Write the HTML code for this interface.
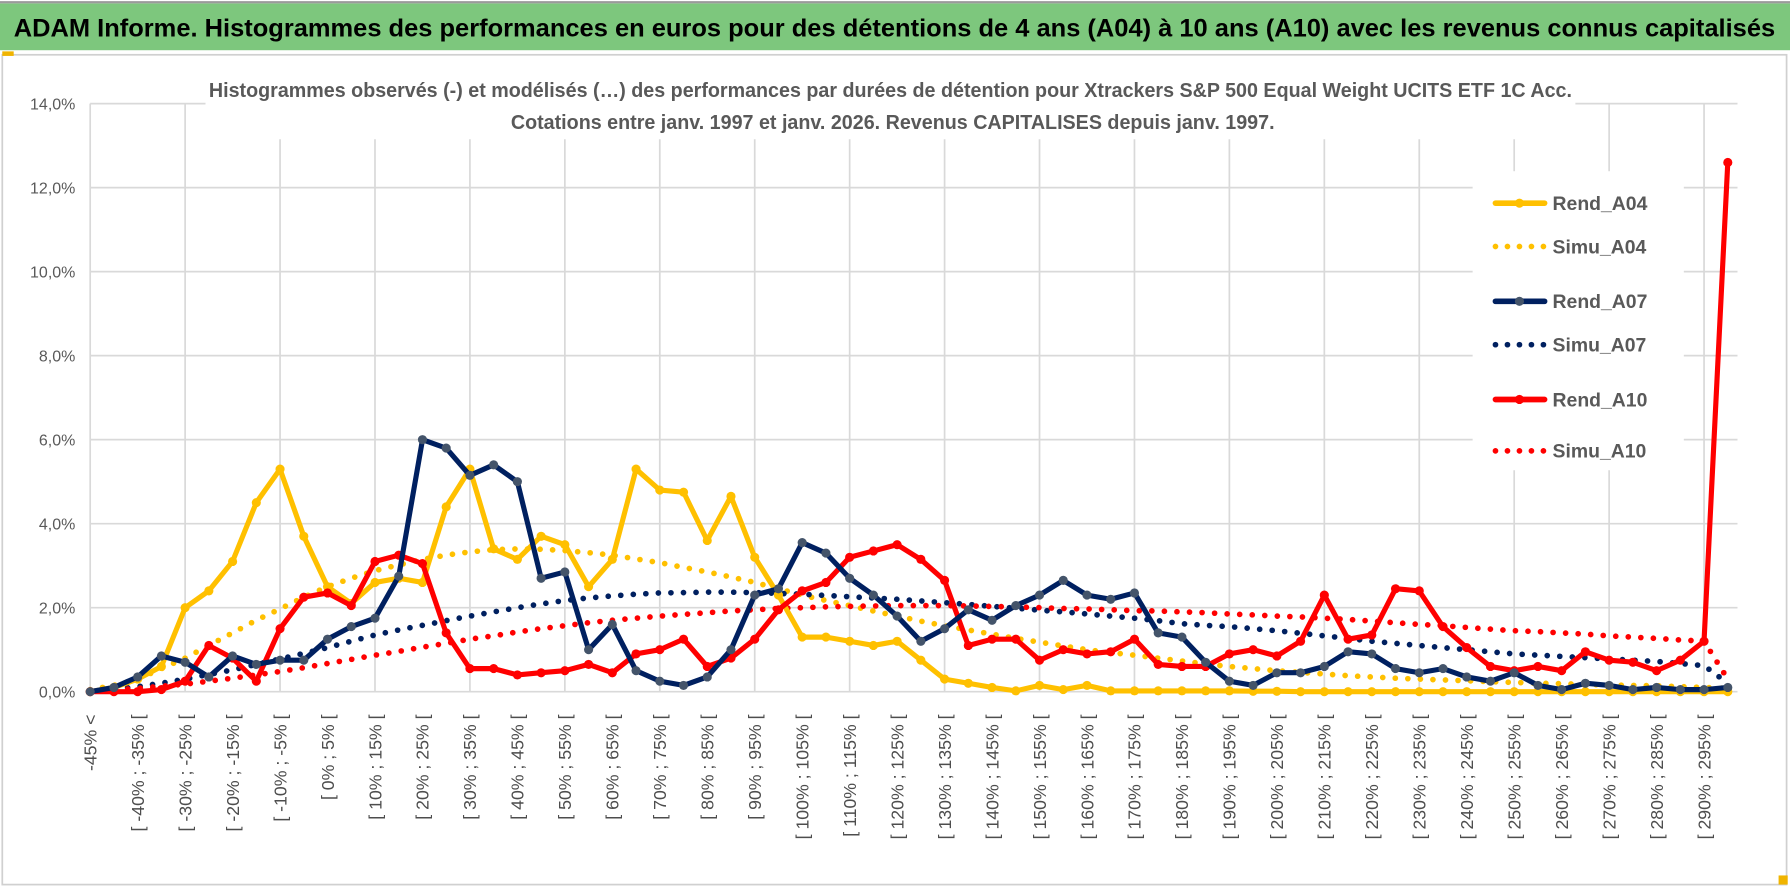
<!DOCTYPE html>
<html><head><meta charset="utf-8"><style>
html,body{margin:0;padding:0;background:#fff;}
svg{display:block;}
text{font-family:"Liberation Sans",sans-serif;}
</style></head><body>
<svg id="chart" xmlns="http://www.w3.org/2000/svg" width="1790" height="888" viewBox="0 0 1568 778" preserveAspectRatio="none">
<rect x="0" y="0" width="1568" height="778" fill="#fff"/>
<rect x="0" y="3" width="1568" height="41" fill="#7dc77d"/>
<line x1="0" y1="2" x2="1568" y2="2" stroke="#9a9a9a" stroke-width="2"/>
<text x="12" y="32" font-size="22" font-weight="bold" textLength="1543" lengthAdjust="spacingAndGlyphs" fill="#000">ADAM Informe. Histogrammes des performances en euros pour des détentions de 4 ans (A04) à 10 ans (A10) avec les revenus connus capitalisés</text>
<rect x="2" y="48" width="1563" height="727" fill="none" stroke="#d0d0d0" stroke-width="1.5"/>
<rect x="2" y="45" width="10" height="4" fill="#f0b400"/>
<rect x="1558" y="767" width="8" height="8" fill="#f0b400"/>
<g id="grid"></g>
<g id="plot"></g>
<rect x="180" y="62" width="1200" height="60" fill="#fff"/>
<text x="780" y="85" font-size="17.5" font-weight="bold" fill="#595959" text-anchor="middle" textLength="1194" lengthAdjust="spacingAndGlyphs">Histogrammes observés (-) et modélisés (…) des performances par durées de détention pour Xtrackers S&amp;P 500 Equal Weight UCITS ETF 1C Acc.</text>
<text x="782" y="113" font-size="17.5" font-weight="bold" fill="#595959" text-anchor="middle" textLength="669" lengthAdjust="spacingAndGlyphs">Cotations entre janv. 1997 et janv. 2026. Revenus CAPITALISES depuis janv. 1997.</text>
<g id="legend"></g>
</svg>
<script>
var categories=["-45% <"];
for(var k=1;k<70;k++){var a=-45+5*(k-1);categories.push("[ "+a+"% ; "+(a+5)+"% [");}
var yTicks=[0,2,4,6,8,10,12,14];
var yTickLabels=["0,0%","2,0%","4,0%","6,0%","8,0%","10,0%","12,0%","14,0%"];
var rendA04=[0,0.1,0.3,0.6,2.0,2.4,3.1,4.5,5.3,3.7,2.5,2.1,2.6,2.7,2.6,4.4,5.3,3.4,3.15,3.7,3.5,2.5,3.15,5.3,4.8,4.75,3.6,4.65,3.2,2.3,1.3,1.3,1.2,1.1,1.2,0.75,0.3,0.2,0.1,0.02,0.15,0.05,0.15,0.02,0.02,0.02,0.02,0.02,0.02,0.01,0.01,0,0,0,0,0,0,0,0,0,0,0,0,0,0,0,0,0,0,0];
var rendA07=[0,0.1,0.35,0.85,0.7,0.35,0.85,0.65,0.75,0.75,1.25,1.55,1.75,2.75,6.0,5.8,5.15,5.4,5.0,2.7,2.85,1.0,1.6,0.5,0.25,0.15,0.35,1.0,2.3,2.45,3.55,3.3,2.7,2.3,1.8,1.2,1.5,1.95,1.7,2.05,2.3,2.65,2.3,2.2,2.35,1.4,1.3,0.7,0.25,0.15,0.45,0.45,0.6,0.95,0.9,0.55,0.45,0.55,0.35,0.25,0.45,0.15,0.05,0.2,0.15,0.05,0.1,0.05,0.05,0.1];
var rendA10=[0,0,0,0.05,0.25,1.1,0.8,0.25,1.5,2.25,2.35,2.05,3.1,3.25,3.05,1.4,0.55,0.55,0.4,0.45,0.5,0.65,0.45,0.9,1.0,1.25,0.6,0.8,1.25,1.95,2.4,2.6,3.2,3.35,3.5,3.15,2.65,1.1,1.25,1.25,0.75,1.0,0.9,0.95,1.25,0.65,0.6,0.6,0.9,1.0,0.85,1.2,2.3,1.25,1.35,2.45,2.4,1.55,1.05,0.6,0.5,0.6,0.5,0.95,0.75,0.7,0.5,0.75,1.2,12.6];
var simuA04=[0.05,0.15,0.3,0.55,0.8,1.1,1.4,1.7,1.97,2.25,2.5,2.7,2.88,3.02,3.15,3.25,3.33,3.38,3.4,3.39,3.36,3.31,3.25,3.16,3.07,2.96,2.85,2.73,2.6,2.45,2.3,2.17,2.05,1.92,1.8,1.68,1.57,1.47,1.37,1.27,1.18,1.09,1.0,0.93,0.87,0.8,0.73,0.66,0.6,0.55,0.5,0.46,0.42,0.38,0.35,0.32,0.3,0.28,0.26,0.24,0.22,0.2,0.19,0.17,0.16,0.15,0.14,0.12,0.1,0.08];
var simuA07=[0,0.06,0.12,0.2,0.3,0.41,0.52,0.65,0.78,0.91,1.05,1.2,1.35,1.47,1.58,1.69,1.8,1.9,2.0,2.09,2.17,2.23,2.28,2.32,2.35,2.36,2.37,2.37,2.36,2.34,2.32,2.29,2.26,2.23,2.2,2.16,2.12,2.08,2.03,1.99,1.94,1.9,1.85,1.8,1.75,1.69,1.62,1.58,1.55,1.5,1.45,1.39,1.33,1.27,1.2,1.15,1.1,1.05,1.0,0.95,0.9,0.87,0.84,0.81,0.78,0.75,0.72,0.67,0.62,0.2];
var simuA10=[0,0.04,0.08,0.13,0.18,0.25,0.32,0.4,0.48,0.57,0.67,0.77,0.87,0.96,1.06,1.15,1.25,1.33,1.42,1.5,1.57,1.64,1.7,1.75,1.8,1.84,1.88,1.92,1.95,1.98,2.0,2.02,2.03,2.04,2.05,2.05,2.05,2.04,2.03,2.02,2.0,1.98,1.97,1.95,1.93,1.92,1.9,1.88,1.85,1.83,1.8,1.78,1.75,1.72,1.68,1.64,1.6,1.57,1.53,1.49,1.45,1.43,1.4,1.37,1.33,1.3,1.27,1.23,1.2,0.3];
var NS="http://www.w3.org/2000/svg";
function xS(i){return 79+i*20.79;}
function yS(v){return 606-v*36.8;}
function mk(tag,attrs,parent){var e=document.createElementNS(NS,tag);for(var a in attrs)e.setAttribute(a,attrs[a]);parent.appendChild(e);return e;}
var grid=document.getElementById('grid'),plot=document.getElementById('plot'),leg=document.getElementById('legend');
for(var t=0;t<yTicks.length;t++){
  var gl=mk('line',{x1:xS(0),x2:1522,y1:yS(yTicks[t]),y2:yS(yTicks[t]),stroke:'#d9d9d9','stroke-width':1.5},grid);
  
  
  var tl=mk('text',{x:66,y:yS(yTicks[t])+5,'font-size':14,fill:'#595959','text-anchor':'end'},grid);
  tl.textContent=yTickLabels[t];
  
  
}
for(var i=0;i<categories.length;i+=4){
  var vl=mk('line',{x1:xS(i),x2:xS(i),y1:yS(14),y2:yS(0),stroke:'#d9d9d9','stroke-width':1.5},grid);
  
  
}
for(var i=0;i<categories.length;i+=2){
  var xl=mk('text',{x:0,y:0,'font-size':15.5,fill:'#4d4d4d','text-anchor':'end',transform:'translate('+(xS(i)+5.5)+',626) rotate(-90)'},grid);
  xl.textContent=categories[i];
  
  
}
function pts(arr){var s=[];for(var i=0;i<arr.length;i++)s.push(xS(i).toFixed(1)+','+yS(arr[i]).toFixed(1));return s.join(' ');}
function dotted(arr,color,name){
  var p=mk('polyline',{points:pts(arr),fill:'none',stroke:color,'stroke-width':5,'stroke-linecap':'round','stroke-dasharray':'0 11'},plot);
  
  
}
function solid(arr,color,mcol,name){
  var g=mk('g',{},plot);
  
  
  mk('polyline',{points:pts(arr),fill:'none',stroke:color,'stroke-width':4.5,'stroke-linejoin':'round'},g);
  for(var i=0;i<arr.length;i++){
    var c=mk('circle',{cx:xS(i),cy:yS(arr[i]),r:4,fill:mcol},g);
    
    
  }
}
dotted(simuA04,'#ffc000','simu-a04-line');
dotted(simuA07,'#002060','simu-a07-line');
dotted(simuA10,'#ff0000','simu-a10-line');
solid(rendA04,'#ffc000','#ffc000','rend-a04-line');
solid(rendA10,'#ff0000','#ff0000','rend-a10-line');
solid(rendA07,'#002060','#44546a','rend-a07-line');
mk('rect',{x:1290,y:150,width:185,height:262,fill:'#fff'},leg);
var legNames=["Rend_A04","Simu_A04","Rend_A07","Simu_A07","Rend_A10","Simu_A10"];
var legCols=["#ffc000","#ffc000","#002060","#002060","#ff0000","#ff0000"];
var legY=[178,216,264,302,350,395];
for(var k=0;k<6;k++){
  var ge=mk('g',{},leg);
  
  
  if(k%2===0){
    mk('line',{x1:1310,x2:1353,y1:legY[k],y2:legY[k],stroke:legCols[k],'stroke-width':5,'stroke-linecap':'round'},ge);
    mk('circle',{cx:1331,cy:legY[k],r:4,fill:(k===2?'#44546a':legCols[k])},ge);
  } else {
    mk('line',{x1:1310,x2:1353,y1:legY[k],y2:legY[k],stroke:legCols[k],'stroke-width':5,'stroke-linecap':'round','stroke-dasharray':'0 10.5'},ge);
  }
  var lt=mk('text',{x:1360,y:legY[k]+6,'font-size':17,'font-weight':'bold',fill:'#595959'},ge);
  lt.textContent=legNames[k];
}
</script>
</body></html>
